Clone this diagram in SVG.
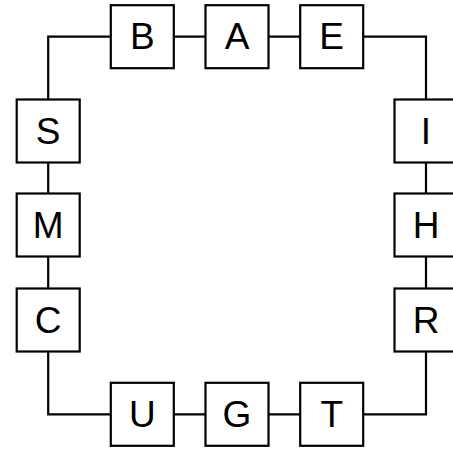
<svg xmlns="http://www.w3.org/2000/svg" width="453" height="452" viewBox="0 0 453 452">
<style>
.box{fill:#fff;stroke:#000;stroke-width:2.2}
.lbl{font-family:"Liberation Sans",Arial,sans-serif;font-size:37px;fill:#000;text-anchor:middle}
.edge{fill:none;stroke:#000;stroke-width:2.2}
</style>
<rect width="453" height="452" fill="#fff"/>
<g id="connectors">
<path class="edge" d="M48.2,131 V36.7 H142.3"/>
<path class="edge" d="M142.3,36.7 H237"/>
<path class="edge" d="M237,36.7 H331.7"/>
<path class="edge" d="M331.7,36.7 H426 V131"/>
<path class="edge" d="M426,131 V225"/>
<path class="edge" d="M426,225 V320"/>
<path class="edge" d="M426,320 V414.3 H331.7"/>
<path class="edge" d="M331.7,414.3 H237"/>
<path class="edge" d="M237,414.3 H142.3"/>
<path class="edge" d="M142.3,414.3 H48.2 V320"/>
<path class="edge" d="M48.2,320 V225"/>
<path class="edge" d="M48.2,225 V131"/>
</g>
<g id="node-B"><rect class="box" x="110.8" y="5.2" width="63" height="63"/><text class="lbl" x="142.3" y="49.2">B</text></g>
<g id="node-A"><rect class="box" x="205.5" y="5.2" width="63" height="63"/><text class="lbl" x="237" y="49.2">A</text></g>
<g id="node-E"><rect class="box" x="300.2" y="5.2" width="63" height="63"/><text class="lbl" x="331.7" y="49.2">E</text></g>
<g id="node-S"><rect class="box" x="16.7" y="99.5" width="63" height="63"/><text class="lbl" x="48.2" y="143.8">S</text></g>
<g id="node-M"><rect class="box" x="16.7" y="193.5" width="63" height="63"/><text class="lbl" x="48.2" y="237.8">M</text></g>
<g id="node-C"><rect class="box" x="16.7" y="288.5" width="63" height="63"/><text class="lbl" x="48.2" y="332.8">C</text></g>
<g id="node-I"><rect class="box" x="394.5" y="99.5" width="63" height="63"/><text class="lbl" x="426" y="143.8">I</text></g>
<g id="node-H"><rect class="box" x="394.5" y="193.5" width="63" height="63"/><text class="lbl" x="426" y="237.8">H</text></g>
<g id="node-R"><rect class="box" x="394.5" y="288.5" width="63" height="63"/><text class="lbl" x="426" y="332.8">R</text></g>
<g id="node-U"><rect class="box" x="110.8" y="382.8" width="63" height="63"/><text class="lbl" x="142.3" y="427">U</text></g>
<g id="node-G"><rect class="box" x="205.5" y="382.8" width="63" height="63"/><text class="lbl" x="237" y="427">G</text></g>
<g id="node-T"><rect class="box" x="300.2" y="382.8" width="63" height="63"/><text class="lbl" x="331.7" y="427">T</text></g>
</svg>
